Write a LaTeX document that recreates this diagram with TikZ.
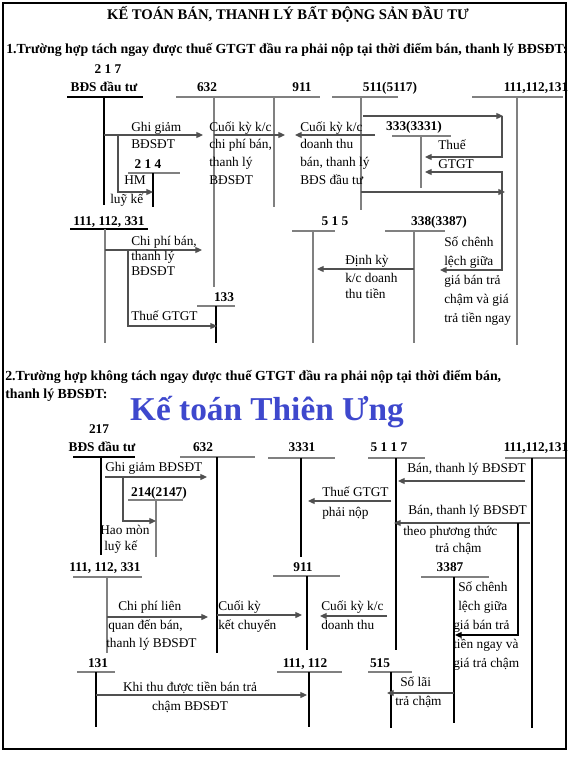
\documentclass[tikz,border=0pt]{standalone}
\usepackage{fontspec}
\setmainfont{Liberation Serif}
\usetikzlibrary{arrows.meta}
\definecolor{lg}{RGB}{128,128,128}
\definecolor{ag}{RGB}{80,80,80}
\definecolor{kt}{RGB}{62,72,205}
\begin{document}
\begin{tikzpicture}[x=0.75pt,y=-0.75pt,
 tx/.style={font=\fontsize{10}{12}\selectfont,inner sep=0pt,text height=7pt,text depth=2pt,anchor=west},
 txc/.style={tx,anchor=center},
 acc/.style={font=\bfseries\fontsize{10}{12}\selectfont,inner sep=0pt,text height=7pt,text depth=2pt},
 hd/.style={font=\bfseries\fontsize{10.4}{12}\selectfont,inner sep=0pt,text height=7pt,text depth=2pt,anchor=west},
 gl/.style={draw=lg,line width=0.9pt},
 kl/.style={draw=black,line width=0.9pt},
 kk/.style={draw=black,line width=1.3pt},
 ar/.style={draw=ag,line width=0.9pt,-{Triangle[length=5pt,width=4.5pt]}},
 arb/.style={draw=ag,line width=0.9pt,{Triangle[length=5pt,width=4.5pt]}-{Triangle[length=5pt,width=4.5pt]}},
]
\useasboundingbox (0,0) rectangle (576,757);
\draw[line width=2.2pt] (3,3) rectangle (566,749);

% ---------- titles ----------
\node[font=\bfseries\fontsize{11}{13}\selectfont,inner sep=0pt] (title) at (288,14) {KẾ TOÁN BÁN, THANH LÝ BẤT ĐỘNG SẢN ĐẦU TƯ};
\node[hd] (head1) at (6,50) {1.Trường hợp tách ngay được thuế GTGT đầu ra phải nộp tại thời điểm bán, thanh lý BĐSĐT:};
\node[hd] (head2a) at (5,377) {2.Trường hợp không tách ngay được thuế GTGT đầu ra phải nộp tại thời điểm bán,};
\node[hd] (head2b) at (5,395) {thanh lý BĐSĐT:};
\node[font=\bfseries\fontsize{25}{28}\selectfont,text=kt,inner sep=0pt] (brand) at (267,412) {Kế toán Thiên Ưng};

% ================= SECTION 1 =================
\node[acc] (n217) at (108,70) {2 1 7};
\node[acc] (n217b) at (104,88) {BĐS đầu tư};
\node[acc] (n632) at (207,88) {632};
\node[acc] (n911) at (302,88) {911};
\node[acc] (n511) at (390,88) {511(5117)};
\node[acc] (n111) at (536,88) {111,112,131};
\node[acc] (n333) at (414,127) {333(3331)};
\node[acc] (n214) at (148,165) {2 1 4};
\node[acc] (n1113) at (109,222) {111, 112, 331};
\node[acc] (n133) at (224,298) {133};
\node[acc] (n515) at (335,222) {5 1 5};
\node[acc] (n338) at (439,222) {338(3387)};

\coordinate (aL) at (67,97);  \coordinate (aR) at (143,97);  \coordinate (aT) at (104,97);  \coordinate (aB) at (104,205);
\coordinate (bL) at (176,97); \coordinate (bR) at (255,97);  \coordinate (bT) at (214,97);  \coordinate (bB) at (214,287);
\coordinate (cL) at (245,97); \coordinate (cR) at (320,97);  \coordinate (cT) at (274,97);  \coordinate (cB) at (274,207);
\coordinate (dL) at (332,97); \coordinate (dR) at (398,97);  \coordinate (dT) at (361,97);  \coordinate (dB) at (361,210);
\coordinate (eL) at (472,97); \coordinate (eR) at (563,97);  \coordinate (eT) at (517,97);  \coordinate (eB) at (517,345);
\coordinate (fL) at (392,136); \coordinate (fR) at (451,136); \coordinate (fT) at (421,136); \coordinate (fB) at (421,188);
\coordinate (gL) at (128,173); \coordinate (gR) at (180,173); \coordinate (gT) at (153,173); \coordinate (gB) at (153,207);
\coordinate (hL) at (70,229);  \coordinate (hR) at (148,229); \coordinate (hT) at (105,229); \coordinate (hB) at (105,343);
\coordinate (iL) at (197,306); \coordinate (iR) at (235,306); \coordinate (iT) at (216,306); \coordinate (iB) at (216,343);
\coordinate (jL) at (292,231); \coordinate (jR) at (335,231); \coordinate (jT) at (313,231); \coordinate (jB) at (313,343);
\coordinate (kL) at (385,231); \coordinate (kR) at (445,231); \coordinate (kT) at (414,231); \coordinate (kB) at (414,343);

\draw[kl] (aL) -- (aR); \draw[kk] (aT) -- (aB);
\draw[gl] (bL) -- (bR); \draw[gl] (bT) -- (bB);
\draw[gl] (cL) -- (cR); \draw[gl] (cT) -- (cB);
\draw[gl] (dL) -- (dR); \draw[gl] (dT) -- (dB);
\draw[gl] (eL) -- (eR); \draw[gl] (eT) -- (eB);
\draw[gl] (fL) -- (fR); \draw[gl] (fT) -- (fB);
\draw[gl] (gL) -- (gR); \draw[kl] (gT) -- (gB);
\draw[kl] (hL) -- (hR); \draw[gl] (hT) -- (hB);
\draw[gl] (iL) -- (iR); \draw[kl] (iT) -- (iB);
\draw[gl] (jL) -- (jR); \draw[gl] (jT) -- (jB);
\draw[gl] (kL) -- (kR); \draw[gl] (kT) -- (kB);

\coordinate (A1s) at (104,135); \coordinate (A1e) at (203,135);
\coordinate (A2s) at (214,135); \coordinate (A2e) at (285,135);
\coordinate (A3s) at (375,135); \coordinate (A3e) at (295,135);
\coordinate (A4s) at (363,116); \coordinate (A4e) at (503,116);
\coordinate (A5s) at (502,116); \coordinate (A5c) at (502,157); \coordinate (A5e) at (425,157);
\coordinate (A6s) at (425,172); \coordinate (A6a) at (502,172); \coordinate (A6b) at (502,270); \coordinate (A6e) at (440,270);
\coordinate (A7s) at (361,192); \coordinate (A7e) at (505,192);
\coordinate (A8s) at (118,135); \coordinate (A8c) at (118,192); \coordinate (A8e) at (153,192);
\coordinate (A9s) at (105,250); \coordinate (A9e) at (202,250);
\coordinate (A10s) at (128,250); \coordinate (A10c) at (128,326); \coordinate (A10e) at (217,326);
\coordinate (A11s) at (414,269); \coordinate (A11e) at (317,269);

\draw[ar] (A1s) -- (A1e);
\draw[ar] (A2s) -- (A2e);
\draw[ar] (A3s) -- (A3e);
\draw[ar] (A4s) -- (A4e);
\draw[ar] (A5s) -- (A5c) -- (A5e);
\draw[arb] (A6s) -- (A6a) -- (A6b) -- (A6e);
\draw[ar] (A7s) -- (A7e);
\draw[ar] (A8s) -- (A8c) -- (A8e);
\draw[ar] (A9s) -- (A9e);
\draw[ar] (A10s) -- (A10c) -- (A10e);
\draw[ar] (A11s) -- (A11e);

\node[tx] (t1) at (131,128) {Ghi giảm};
\node[tx] (t2) at (131,145) {BĐSĐT};
\node[tx] (t3) at (209,128) {Cuối kỳ k/c};
\node[tx] (t4) at (209,145) {chi phí bán,};
\node[tx] (t5) at (209,163) {thanh lý};
\node[tx] (t6) at (209,181) {BĐSĐT};
\node[tx] (t7) at (300,128) {Cuối kỳ k/c};
\node[tx] (t8) at (300,145) {doanh thu};
\node[tx] (t9) at (300,163) {bán, thanh lý};
\node[tx] (t10) at (300,181) {BĐS đầu tư};
\node[tx] (t11) at (438,146) {Thuế};
\node[tx] (t12) at (438,165) {GTGT};
\node[tx] (t13) at (124,181) {HM};
\node[tx] (t14) at (110,200) {luỹ kế};
\node[tx] (t15) at (131,242) {Chi phí bán,};
\node[tx] (t16) at (131,257) {thanh lý};
\node[tx] (t17) at (131,272) {BĐSĐT};
\node[tx] (t18) at (131,317) {Thuế GTGT};
\node[tx] (t19) at (345,261) {Định kỳ};
\node[tx] (t20) at (345,279) {k/c doanh};
\node[tx] (t21) at (345,295) {thu tiền};
\node[tx] (t22) at (444,243) {Số chênh};
\node[tx] (t23) at (444,262) {lệch giữa};
\node[tx] (t24) at (444,281) {giá bán trả};
\node[tx] (t25) at (444,300) {chậm và giá};
\node[tx] (t26) at (444,319) {trả tiền ngay};

% ================= SECTION 2 =================
\node[acc] (m217) at (99,430) {217};
\node[acc] (m217b) at (102,448) {BĐS đầu tư};
\node[acc] (m632) at (203,448) {632};
\node[acc] (m3331) at (302,448) {3331};
\node[acc] (m5117) at (389,448) {5 1 1 7};
\node[acc] (m111) at (536,448) {111,112,131};
\node[acc] (m214) at (159,493) {214(2147)};
\node[acc] (m911) at (303,568) {911};
\node[acc] (m3387) at (450,568) {3387};
\node[acc] (m1113) at (105,568) {111, 112, 331};
\node[acc] (m131) at (98,664) {131};
\node[acc] (m1112) at (305,664) {111, 112};
\node[acc] (m515) at (380,664) {515};

\coordinate (pL) at (73,457);  \coordinate (pR) at (135,457); \coordinate (pT) at (101,457); \coordinate (pB) at (101,555);
\coordinate (qL) at (180,457); \coordinate (qR) at (255,457); \coordinate (qT) at (217,457); \coordinate (qB) at (217,653);
\coordinate (rL) at (268,458); \coordinate (rR) at (335,458); \coordinate (rT) at (301,458); \coordinate (rB) at (301,557);
\coordinate (sL) at (368,458); \coordinate (sR) at (425,458); \coordinate (sT) at (396,458); \coordinate (sB) at (396,650);
\coordinate (uL) at (505,458); \coordinate (uR) at (565,458); \coordinate (uT) at (532,458); \coordinate (uB) at (532,728);
\coordinate (vL) at (128,500); \coordinate (vR) at (183,500); \coordinate (vT) at (156,500); \coordinate (vB) at (156,557);
\coordinate (wL) at (273,576); \coordinate (wR) at (340,576); \coordinate (wT) at (307,576); \coordinate (wB) at (307,650);
\coordinate (xL) at (421,577); \coordinate (xR) at (489,577); \coordinate (xT) at (454,577); \coordinate (xB) at (454,723);
\coordinate (yL) at (73,577);  \coordinate (yR) at (142,577); \coordinate (yT) at (107,577); \coordinate (yB) at (107,653);
\coordinate (zL) at (77,672);  \coordinate (zR) at (115,672); \coordinate (zT) at (96,672);  \coordinate (zB) at (96,727);
\coordinate (oL) at (277,672); \coordinate (oR) at (342,672); \coordinate (oT) at (309,672); \coordinate (oB) at (309,727);
\coordinate (lL) at (368,672); \coordinate (lR) at (412,672); \coordinate (lT) at (391,672); \coordinate (lB) at (391,728);

\draw[kl] (pL) -- (pR); \draw[kk] (pT) -- (pB);
\draw[gl] (qL) -- (qR); \draw[kl] (qT) -- (qB);
\draw[gl] (rL) -- (rR); \draw[kl] (rT) -- (rB);
\draw[gl] (sL) -- (sR); \draw[kl] (sT) -- (sB);
\draw[gl] (uL) -- (uR); \draw[kl] (uT) -- (uB);
\draw[gl] (vL) -- (vR); \draw[gl] (vT) -- (vB);
\draw[gl] (wL) -- (wR); \draw[kl] (wT) -- (wB);
\draw[gl] (xL) -- (xR); \draw[kl] (xT) -- (xB);
\draw[gl] (yL) -- (yR); \draw[gl] (yT) -- (yB);
\draw[gl] (zL) -- (zR); \draw[kl] (zT) -- (zB);
\draw[gl] (oL) -- (oR); \draw[kl] (oT) -- (oB);
\draw[gl] (lL) -- (lR); \draw[kl] (lT) -- (lB);

\coordinate (B1s) at (105,477); \coordinate (B1e) at (207,477);
\coordinate (B2s) at (123,477); \coordinate (B2c) at (123,521); \coordinate (B2e) at (156,521);
\coordinate (B3s) at (525,481); \coordinate (B3e) at (398,481);
\coordinate (B4s) at (391,501); \coordinate (B4e) at (308,501);
\coordinate (B5s) at (530,523); \coordinate (B5e) at (394,523);
\coordinate (B6s) at (518,523); \coordinate (B6c) at (518,635); \coordinate (B6e) at (455,635);
\coordinate (B7s) at (107,617); \coordinate (B7e) at (208,617);
\coordinate (B8s) at (217,615); \coordinate (B8e) at (302,615);
\coordinate (B9s) at (387,616); \coordinate (B9e) at (320,616);
\coordinate (B10s) at (96,695); \coordinate (B10e) at (307,695);
\coordinate (B11s) at (454,693); \coordinate (B11e) at (387,693);

\draw[ar] (B1s) -- (B1e);
\draw[ar] (B2s) -- (B2c) -- (B2e);
\draw[ar] (B3s) -- (B3e);
\draw[ar] (B4s) -- (B4e);
\draw[ar] (B5s) -- (B5e);
\draw[ar,draw=black] (B6s) -- (B6c) -- (B6e);
\draw[ar] (B7s) -- (B7e);
\draw[ar] (B8s) -- (B8e);
\draw[ar] (B9s) -- (B9e);
\draw[ar] (B10s) -- (B10e);
\draw[ar] (B11s) -- (B11e);

\node[tx] (u1) at (105,468) {Ghi giảm BĐSĐT};
\node[tx] (u2) at (100,531) {Hao mòn};
\node[tx] (u3) at (104,547) {luỹ kế};
\node[tx] (u4) at (407,469) {Bán, thanh lý BĐSĐT};
\node[tx] (u5) at (322,493) {Thuế GTGT};
\node[tx] (u6) at (322,513) {phải nộp};
\node[tx] (u7) at (408,511) {Bán, thanh lý BĐSĐT};
\node[tx] (u8) at (403,532) {theo phương thức};
\node[tx] (u9) at (435,549) {trả chậm};
\node[tx] (u10) at (118,607) {Chi phí liên};
\node[tx] (u11) at (108,626) {quan đến bán,};
\node[tx] (u12) at (106,644) {thanh lý BĐSĐT};
\node[tx] (u13) at (218,607) {Cuối kỳ};
\node[tx] (u14) at (218,626) {kết chuyển};
\node[tx] (u15) at (321,607) {Cuối kỳ k/c};
\node[tx] (u16) at (321,626) {doanh thu};
\node[tx] (u17) at (458,588) {Số chênh};
\node[tx] (u18) at (458,607) {lệch giữa};
\node[tx] (u19) at (453,626) {giá bán trả};
\node[tx] (u20) at (453,645) {tiền ngay và};
\node[tx] (u21) at (453,664) {giá trả chậm};
\node[txc] (u22) at (190,688) {Khi thu được tiền bán trả};
\node[txc] (u23) at (190,707) {chậm BĐSĐT};
\node[tx] (u24) at (400,683) {Số lãi};
\node[tx] (u25) at (395,702) {trả chậm};
\end{tikzpicture}
\end{document}
